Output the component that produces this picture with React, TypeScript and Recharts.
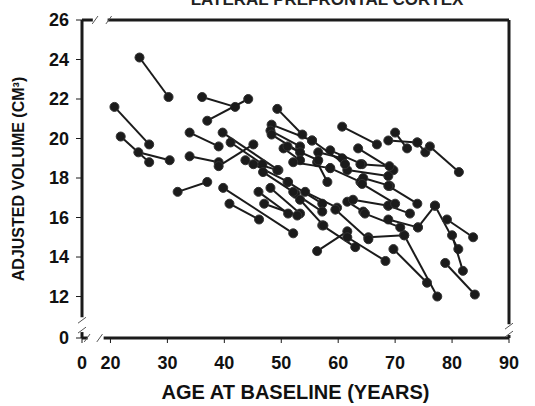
import { ScatterChart, Scatter, XAxis, YAxis, ZAxis, ReferenceLine } from 'recharts';

// one subject = baseline scan + follow-up scan
const baselineAge = [25.1, 20.7, 21.8, 24.9, 36.1, 37.0, 33.9, 33.9, 31.8, 39.8, 40.9, 39.7, 39.0, 41.1, 49.3, 48.3, 48.1, 48.3, 50.4, 60.7, 70.0, 68.8, 73.9, 76.1, 56.5, 58.6, 63.5, 63.9, 56.3, 58.6, 61.6, 64.4, 68.8, 77.0, 79.1, 80.0, 78.8, 69.7, 71.6, 74.0, 68.8, 68.8, 65.3, 56.3, 57.2, 46.0, 48.1, 51.1, 52.5, 54.2, 61.6, 62.6, 59.5, 43.7, 45.1, 47.0, 61.6, 46.8, 51.1, 52.1, 55.4, 64.2, 64.7, 53.3];
const baselineVol = [24.1, 21.6, 20.1, 19.3, 22.1, 20.9, 20.3, 19.1, 17.3, 17.5, 16.7, 20.3, 18.6, 19.8, 21.5, 20.7, 20.4, 20.2, 19.5, 20.6, 20.3, 19.9, 19.8, 19.6, 19.3, 19.4, 19.5, 18.7, 18.8, 18.5, 18.4, 18.0, 17.6, 16.6, 15.9, 15.1, 13.7, 14.4, 15.1, 15.5, 16.6, 15.9, 15.0, 14.3, 15.6, 17.3, 17.5, 17.8, 17.2, 17.3, 16.8, 16.9, 16.4, 18.9, 18.7, 16.7, 15.0, 18.3, 19.6, 18.8, 19.9, 17.7, 16.2, 16.9];
const followupAge = [30.2, 26.8, 26.8, 30.4, 41.9, 44.2, 39.0, 39.0, 37.0, 52.1, 46.1, 49.5, 45.1, 46.7, 53.7, 55.4, 53.3, 53.3, 53.3, 66.8, 72.1, 73.9, 75.3, 81.2, 60.7, 64.2, 69.7, 69.0, 58.1, 63.9, 68.8, 69.1, 73.9, 81.1, 83.7, 81.9, 84.0, 75.6, 77.4, 77.0, 72.6, 74.0, 71.6, 61.6, 63.0, 51.2, 53.3, 57.2, 57.2, 59.8, 64.4, 68.8, 65.3, 49.3, 51.2, 52.8, 68.3, 52.1, 56.5, 58.6, 61.2, 70.0, 70.9, 57.4];
const followupVol = [22.1, 19.7, 18.8, 18.9, 21.6, 22.0, 19.6, 18.8, 17.8, 15.2, 15.9, 18.4, 19.7, 18.7, 20.2, 19.9, 19.6, 19.3, 18.9, 19.7, 19.5, 19.8, 19.3, 18.3, 19.0, 18.7, 18.4, 18.6, 17.8, 17.8, 18.1, 17.6, 16.7, 14.4, 15.0, 13.3, 12.1, 12.7, 12.0, 16.6, 16.2, 15.5, 15.1, 15.3, 14.5, 16.2, 16.2, 16.7, 16.3, 16.5, 16.3, 16.6, 14.9, 18.4, 17.8, 16.1, 13.8, 17.3, 18.9, 18.5, 18.7, 16.7, 15.5, 15.6];

// axes are broken: the lowest tick stands for 0
const X_MIN = 15;
const Y_MIN = 9.9;
const xTicks = [X_MIN, 20, 30, 40, 50, 60, 70, 80, 90];
const yTicks = [Y_MIN, 12, 14, 16, 18, 20, 22, 24, 26];

const subjects = baselineAge.map((age, i) => [
  { age, volume: baselineVol[i] },
  { age: followupAge[i], volume: followupVol[i] },
]);

const INK = '#1b1b1b';
const FONT = '"Liberation Sans", Arial, sans-serif';

type Pt = [number, number];
// frame pieces with gaps for the axis breaks
const frame: [Pt, Pt][] = [
  [[15, 26], [16.9, 26]],
  [[19.5, 26], [90, 26]],
  [[15, Y_MIN], [16, Y_MIN]],
  [[18.8, Y_MIN], [90, Y_MIN]],
  [[15, 26], [15, 10.95]],
  [[15, 10.2], [15, Y_MIN]],
  [[90, 26], [90, 10.6]],
  [[90, 10.05], [90, Y_MIN]],
];
const slashes: [Pt, Pt][] = [
  [[16.8, 25.8], [17.8, 26.2]],
  [[19.2, 25.8], [20.2, 26.2]],
  [[15.4, 9.7], [16.4, 10.1]],
  [[17.6, 9.7], [18.6, 10.1]],
  [[14.3, 10.65], [15.7, 10.95]],
  [[14.3, 10.15], [15.7, 10.45]],
  [[89.3, 10.35], [90.7, 10.65]],
  [[89.3, 9.95], [90.7, 10.25]],
];

const tickStyle = { fill: '#111', fontSize: 18, fontWeight: 700, fontFamily: FONT };

export default function App() {
  return (
    <div style={{ position: 'absolute', left: 0, top: 0, background: '#fff' }}>
      <ScatterChart width={535} height={406} margin={{ top: 20, right: 26, bottom: 7, left: 9 }}>
        <text x={327} y={5} textAnchor="middle" fontSize={17} fontWeight={700} fontFamily={FONT} fill="#222">
          LATERAL PREFRONTAL CORTEX
        </text>
        <XAxis
          type="number"
          dataKey="age"
          domain={[X_MIN, 90]}
          ticks={xTicks}
          tickFormatter={(v: number) => (v === X_MIN ? '0' : String(v))}
          axisLine={false}
          tickLine={{ stroke: INK }}
          tickSize={5}
          tickMargin={13}
          tick={tickStyle}
          height={61}
          label={{ value: 'AGE AT BASELINE (YEARS)', position: 'insideBottom', offset: 0, style: { fill: '#111', fontSize: 20, fontWeight: 700, fontFamily: FONT } }}
        />
        <YAxis
          type="number"
          dataKey="volume"
          domain={[Y_MIN, 26]}
          ticks={yTicks}
          tickFormatter={(v: number) => (v === Y_MIN ? '0' : String(v))}
          axisLine={false}
          tickLine={{ stroke: INK }}
          tickSize={6}
          tickMargin={7}
          tick={tickStyle}
          width={73}
          label={{ value: 'ADJUSTED VOLUME (CM³)', angle: -90, position: 'insideLeft', offset: 9, style: { textAnchor: 'middle', fill: '#111', fontSize: 16, fontWeight: 700, fontFamily: FONT } }}
        />
        <ZAxis range={[100, 100]} />
        {frame.map((seg, i) => (
          <ReferenceLine key={`f${i}`} segment={seg.map(([x, y]) => ({ x, y }))} stroke={INK} strokeWidth={3} ifOverflow="visible" />
        ))}
        {slashes.map((seg, i) => (
          <ReferenceLine key={`s${i}`} segment={seg.map(([x, y]) => ({ x, y }))} stroke="#555" strokeWidth={1} ifOverflow="visible" />
        ))}
        {subjects.map((pts, i) => (
          <Scatter
            key={i}
            data={pts}
            fill={INK}
            stroke="#333"
            line={{ stroke: INK, strokeWidth: 2 }}
            shape="circle"
            isAnimationActive={false}
          />
        ))}
      </ScatterChart>
    </div>
  );
}
